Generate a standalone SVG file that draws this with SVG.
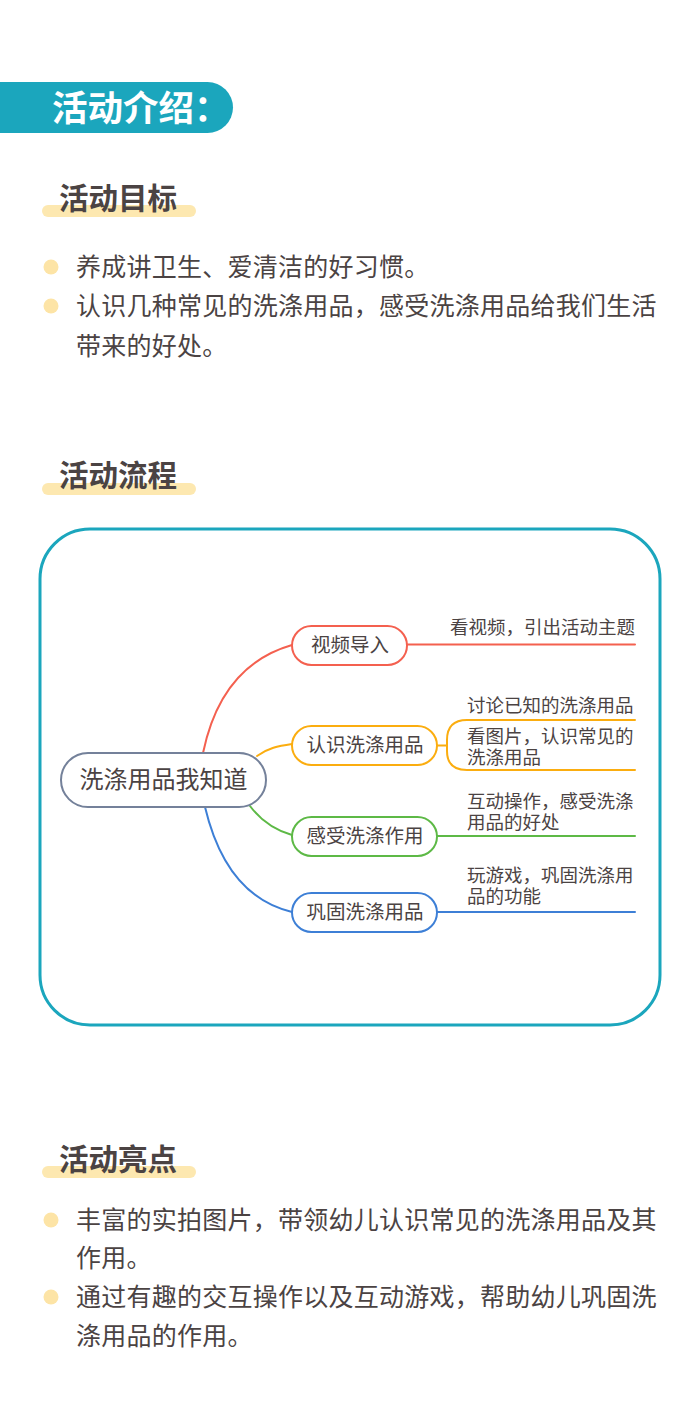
<svg xmlns="http://www.w3.org/2000/svg" width="700" height="1411" viewBox="0 0 700 1411">
<style>
.body{font-family:"Noto Sans CJK SC","Noto Sans",sans-serif;fill:#4b4343;}
.h{font-size:29.5px;font-weight:bold;}
.p{font-size:25px;letter-spacing:0.25px;}
.bar{fill:#fde8b0;}
.dot{fill:#fde4a6;}
.node{fill:#fff;stroke-width:2;}
.nt{font-size:19.5px;text-anchor:middle;}
.lt{font-size:18.5px;}
.br{fill:none;stroke-width:2;stroke-linecap:round;}
</style>
<rect width="700" height="1411" fill="#fff"/>
<g id="banner">
<path d="M0,82 H207.5 A25.5,25.5 0 0 1 207.5,133 H0 Z" fill="#1ba6bd"/>
<text x="52" y="121" font-family="Noto Sans CJK SC,sans-serif" font-size="35.5" font-weight="bold" fill="#fff">活动介绍：</text>
</g>
<g id="goal">
<rect class="bar" x="42" y="205" width="154" height="12" rx="6"/>
<text class="body h" x="59" y="209">活动目标</text>
<circle class="dot" cx="51" cy="267" r="7.5"/>
<text class="body p" x="76" y="276">养成讲卫生、爱清洁的好习惯。</text>
<circle class="dot" cx="51" cy="306" r="7.5"/>
<text class="body p" x="76" y="315">认识几种常见的洗涤用品，感受洗涤用品给我们生活</text>
<text class="body p" x="76" y="355">带来的好处。</text>
</g>
<g id="flow-title">
<rect class="bar" x="42" y="483" width="154" height="12" rx="6"/>
<text class="body h" x="59" y="486">活动流程</text>
</g>
<rect id="frame" x="40" y="529" width="620" height="496" rx="50" fill="none" stroke="#1ba6bd" stroke-width="3"/>
<g id="connectors">
<path class="br" d="M203,753 C214,700 240,660 292,645" stroke="#f4604f" stroke-width="3.5"/>
<path class="br" d="M257,756 C268,748 278,746 292,744" stroke="#fbad0f" stroke-width="3"/>
<path class="br" d="M250,806 C262,822 275,830 292,835" stroke="#5db946" stroke-width="3"/>
<path class="br" d="M205,807 C220,870 250,902 292,912" stroke="#3d7fd6" stroke-width="3.5"/>
<path class="br" d="M407,644.5 H635" stroke="#f4604f"/>
<path class="br" d="M437,745.5 H446" stroke="#fbad0f"/>
<path class="br" d="M635,720 H467 Q447,720 447,740 V751 Q447,770 467,770 H635" stroke="#fbad0f"/>
<path class="br" d="M437,836 H635" stroke="#5db946"/>
<path class="br" d="M437,912 H635" stroke="#3d7fd6"/>
</g>
<g id="root">
<rect class="node" x="61" y="753" width="205" height="54" rx="27" stroke="#74819a"/>
<text class="body" x="163.5" y="788" font-size="24" text-anchor="middle">洗涤用品我知道</text>
</g>
<g id="n1">
<rect class="node" x="292" y="626" width="115" height="39" rx="19.5" stroke="#f4604f"/>
<text class="body nt" x="350" y="652">视频导入</text>
<text class="body lt" x="635" y="634" text-anchor="end">看视频，引出活动主题</text>
</g>
<g id="n2">
<rect class="node" x="292" y="726" width="145" height="39" rx="19.5" stroke="#fbad0f"/>
<text class="body nt" x="365" y="752">认识洗涤用品</text>
<text class="body lt" x="467" y="712">讨论已知的洗涤用品</text>
<text class="body lt" x="467" y="743">看图片，认识常见的</text>
<text class="body lt" x="467" y="764">洗涤用品</text>
</g>
<g id="n3">
<rect class="node" x="292" y="817" width="145" height="39" rx="19.5" stroke="#5db946"/>
<text class="body nt" x="365" y="843">感受洗涤作用</text>
<text class="body lt" x="467" y="808">互动操作，感受洗涤</text>
<text class="body lt" x="467" y="829">用品的好处</text>
</g>
<g id="n4">
<rect class="node" x="292" y="893" width="145" height="39" rx="19.5" stroke="#3d7fd6"/>
<text class="body nt" x="365" y="919">巩固洗涤用品</text>
<text class="body lt" x="467" y="882">玩游戏，巩固洗涤用</text>
<text class="body lt" x="467" y="903">品的功能</text>
</g>
<g id="highlight">
<rect class="bar" x="42" y="1166" width="154" height="12" rx="6"/>
<text class="body h" x="59" y="1170">活动亮点</text>
<circle class="dot" cx="51" cy="1220" r="7.5"/>
<text class="body p" x="76" y="1229">丰富的实拍图片，带领幼儿认识常见的洗涤用品及其</text>
<text class="body p" x="76" y="1267">作用。</text>
<circle class="dot" cx="51" cy="1297" r="7.5"/>
<text class="body p" x="76" y="1306">通过有趣的交互操作以及互动游戏，帮助幼儿巩固洗</text>
<text class="body p" x="76" y="1345">涤用品的作用。</text>
</g>
</svg>
